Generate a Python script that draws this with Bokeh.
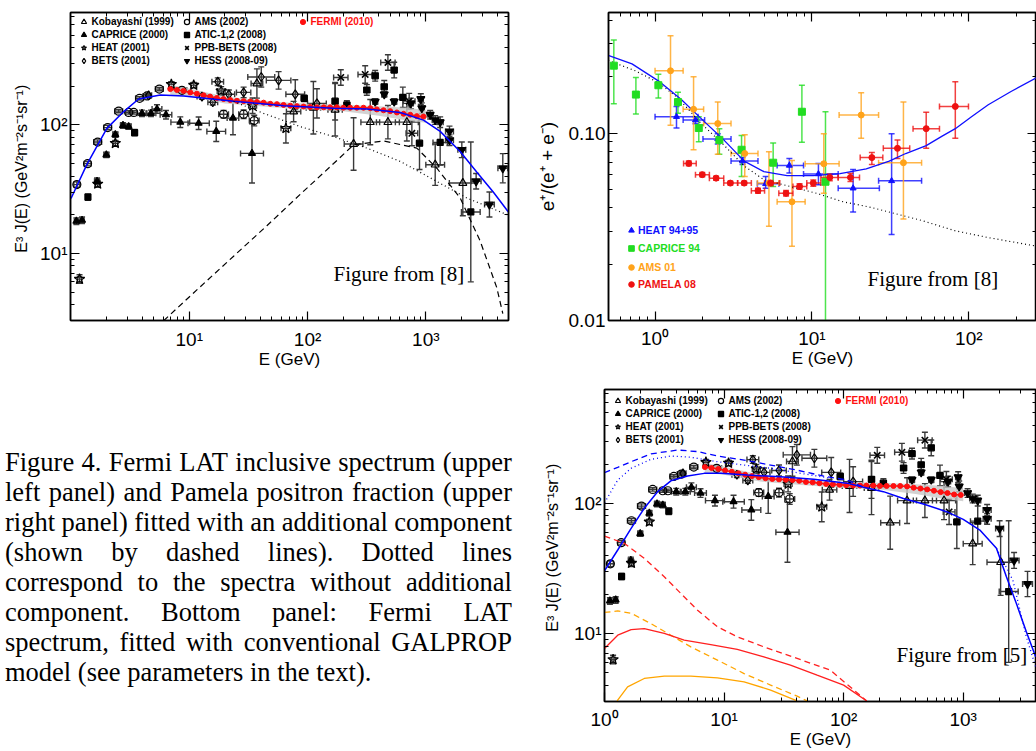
import numpy as np
from bokeh.plotting import figure
from bokeh.models import (ColumnDataSource, Whisker, TeeHead, LogAxis, FixedTicker,
                          CustomJSTickFormatter, Legend, LegendItem, Label, Range1d, Div)
from bokeh.layouts import row, column
from bokeh.embed import file_html
from bokeh.resources import INLINE

SANS = "Liberation Sans"
SERIF = "Liberation Serif"

# ---------------- electron + positron spectrum data (E^3 J(E)) ----------------
kob_E = [37.3, 76.2, 112, 171, 245, 339, 478, 691, 1200, 2055]
kob_F = [210, 127, 136, 131, 71, 105, 105, 105, 49, 35.3]
kob_xf = [1.12, 1.15, 1.15, 1.15, 1.2, 1.2, 1.25, 1.25, 1.2, 1.3]
kob_yf = [1.3, 1.2, 1.6, 1.6, 1.6, 1.5, 1.35, 1.4, 1.45, 1.8]

cap_E = [1.11, 1.24, 1.66, 1.99, 2.37, 2.75, 3.07, 3.98, 4.74, 5.33, 6.35, 8.39, 12.0, 16.9, 23.4, 33.9]
cap_F = [17.8, 18.1, 36.4, 58.5, 84, 99, 97, 123, 123, 133, 120, 105, 103, 89, 113, 60]
cap_xf = [1.04, 1.04, 1.05, 1.05, 1.05, 1.05, 1.05, 1.1, 1.1, 1.1, 1.12, 1.2, 1.23, 1.2, 1.12, 1.25]
cap_yf = [1.06, 1.06, 1.06, 1.05, 1.05, 1.05, 1.05, 1.06, 1.06, 1.08, 1.08, 1.1, 1.12, 1.2, 1.35, 1.7]

heat_E = [1.18, 1.68, 2.37, 7.05, 10.9, 18.6, 34.3, 65.6]
heat_F = [6.3, 34.7, 72, 207, 204, 184, 141, 94]
heat_xf = [1.04, 1.05, 1.05, 1.05, 1.06, 1.08, 1.08, 1.1]
heat_yf = [1.08, 1.06, 1.05, 1.05, 1.05, 1.08, 1.15, 1.3]

bets_E = [4.53, 12.8, 15.8, 17.4, 21.6, 28.8, 40.6, 56.9, 78.7, 120]
bets_F = [170, 166, 150, 217, 173, 179, 236, 222, 173, 147]
bets_xf = [1.06, 1.1, 1.1, 1.12, 1.12, 1.15, 1.3, 1.27, 1.2, 1.2]
bets_yf = [1.03, 1.05, 1.05, 1.07, 1.08, 1.1, 1.2, 1.17, 1.3, 1.3]

ams_E = [1.12, 1.38, 1.68, 2.04, 2.53, 3.07, 3.39, 3.80, 4.39, 5.58, 8.67, 19.5, 28.8, 35.4]
ams_F = [34.3, 49.9, 73.5, 95.3, 128, 125, 125, 161, 168, 190, 186, 121, 121, 108]
ams_xf = [1.06, 1.07, 1.08, 1.08, 1.08, 1.06, 1.06, 1.08, 1.08, 1.08, 1.1, 1.1, 1.1, 1.1]
ams_yf = [1.05, 1.04, 1.04, 1.04, 1.03, 1.03, 1.03, 1.03, 1.03, 1.03, 1.04, 1.07, 1.08, 1.1]

atic_E = [1.39, 3.45, 93.7, 171, 215, 317, 373, 445, 540, 639, 884, 1322, 2400]
atic_F = [27.4, 87, 161, 153, 143, 187, 241, 198, 267, 164, 72, 73, 21]
atic_xf = [1.04, 1.04, 1.06, 1.06, 1.06, 1.06, 1.06, 1.06, 1.06, 1.06, 1.06, 1.15, 1.2]
atic_yf = [1.06, 1.06, 1.06, 1.4, 1.08, 1.1, 1.1, 1.12, 1.15, 1.2, 1.6, 1.5, 3.5]

ppb_E = [191, 307, 478, 723, 762]
ppb_F = [234, 247, 306, 153, 86]
ppb_xf = [1.15, 1.15, 1.15, 1.12, 1.12]
ppb_yf = [1.15, 1.17, 1.15, 1.15, 1.25]

hess_E = [373, 445, 540, 747, 907, 925, 1088, 1200, 1322, 1585, 1585, 2015, 2663, 3450, 4475]
hess_F = [152, 173, 152, 147, 159, 135, 120, 109, 105, 89, 76, 64, 36.4, 24, 46]
hess_xf = [1.05, 1.05, 1.05, 1.05, 1.05, 1.05, 1.06, 1.06, 1.06, 1.08, 1.08, 1.08, 1.1, 1.1, 1.1]
hess_yf = [1.05, 1.05, 1.05, 1.1, 1.1, 1.1, 1.08, 1.08, 1.1, 1.1, 1.1, 1.15, 1.15, 1.25, 1.3]

fermi_E = [6.91, 7.86, 8.95, 10.2, 11.6, 13.2, 15.0, 17.1, 19.5, 22.2, 25.3, 28.8, 32.8,
           37.3, 42.5, 48.4, 55.1, 62.7, 71.4, 81.3, 92.5, 105, 120, 137, 155, 177, 201,
           229, 261, 297, 339, 385, 439, 500, 569, 648, 738, 839, 955]
fermi_F = [190, 187, 184, 179, 175, 170, 166, 162, 159, 156, 154, 153, 152,
           151, 149, 146, 145, 143, 141, 140, 139, 138, 137, 137, 137, 137, 136,
           136, 136, 136, 135, 132, 130, 128, 125, 122, 120, 117, 116]
band_E = [6.9, 10, 20, 50, 100, 200, 400, 700, 1000]
band_hi = [205, 192, 166, 152, 146, 144, 140, 136, 130]
band_lo = [172, 166, 147, 137, 131, 128, 118, 108, 104]

# upper-left panel model curves
fit1_E = [1.0, 1.36, 2.01, 2.79, 3.73, 5.69, 8.95, 23.7, 62.7, 166, 317, 607, 955, 1322, 1950, 2692, 3715, 4990]
fit1_F = [26.7, 49, 94, 127, 159, 171, 168, 153, 141, 135, 133, 125, 109, 89, 62, 43, 30, 21]
nocomp1_E = [23.7, 42.5, 86.7, 166, 317, 607, 1161, 2218, 4990]
nocomp1_F = [152, 123, 97, 81, 66, 52, 37.5, 27, 19.8]
extra1_E = [6.07, 12.4, 23.7, 45.3, 86.7, 166, 245, 439, 839, 1239, 1950, 2877, 3982, 4475]
extra1_F = [2.99, 5.5, 9.5, 16.4, 28.8, 50, 70, 75, 66, 46, 27, 12.5, 5.4, 3.4]

# bottom panel GALPROP curves
gal_tot_E = [1.0, 1.29, 1.67, 2.15, 2.78, 3.59, 4.95, 6.81, 9.38, 15.6, 29.7, 56.2, 107, 147, 215, 316, 464, 726, 1000, 1377, 1896, 2297, 2783, 3370, 4033]
gal_tot_F = [30.3, 43.8, 64.2, 91.6, 123, 149, 162, 170, 170, 165, 160, 153, 143, 133, 123, 109, 99, 86.3, 75.3, 62.3, 45.1, 27.3, 17.0, 10.3, 6.62]
gal_dash_E = [1.0, 1.29, 1.67, 2.45, 4.08, 6.0, 8.8, 14.7, 24.5, 40.8, 68, 107, 147]
gal_dash_F = [172, 189, 209, 240, 257, 250, 231, 215, 197, 180, 162, 151, 133]
gal_dot_E = [1.0, 1.29, 1.67, 2.45, 3.59, 5.27, 8.8, 14.7, 24.5, 40.8, 77.4]
gal_dot_F = [101, 151, 186, 218, 231, 226, 209, 197, 186, 172, 156]
gal_dot2_E = [1896, 2600, 3370, 4033]
gal_dot2_F = [45.1, 25.7, 9.43, 5.54]
pos_dash_E = [1.0, 1.47, 2.15, 3.16, 4.35, 6.0, 8.8, 12.9, 21.5, 40.8, 77.4, 156]
pos_dash_F = [56.1, 49.2, 37.8, 27.3, 20.3, 15.1, 11.25, 9.43, 7.89, 6.43, 5.22, 3.03]
pos_sol_E = [1.0, 1.29, 1.67, 2.15, 3.16, 4.64, 7.74, 12.9, 21.5, 35.9, 60, 100, 156]
pos_sol_F = [7.67, 9.7, 10.7, 10.9, 10.0, 8.89, 8.22, 7.54, 6.62, 5.71, 4.78, 4.01, 3.03]
or_dash_E = [1.0, 1.29, 1.67, 2.45, 3.59, 5.27, 8.8, 14.7, 24.5, 40.8, 49.5]
or_dash_F = [14.5, 14.9, 14.3, 11.9, 9.7, 7.89, 6.24, 4.92, 4.01, 3.3, 3.03]
or_sol_E = [1.275, 1.56, 2.15, 3.16, 5.27, 8.8, 14.7, 24.5, 40.8]
or_sol_F = [3.03, 3.89, 4.51, 4.7, 4.7, 4.56, 4.25, 3.67, 3.03]

# ---------------- positron fraction data ----------------
heat2_E = [1.37, 1.81, 2.51, 3.61, 5.07, 7.18, 11.0, 18.3, 32.2]
heat2_Elo = [1.0, 1.51, 2.02, 3.05, 4.49, 6.0, 8.84, 14.7, 26.6]
heat2_Ehi = [1.88, 2.07, 3.05, 4.53, 6.15, 8.84, 14.7, 26.9, 50]
heat2_y = [0.1223, 0.1173, 0.0931, 0.0709, 0.0536, 0.0672, 0.0605, 0.0508, 0.0556]
heat2_ylo = [0.1064, 0.112, 0.0875, 0.068, 0.0508, 0.0613, 0.053, 0.0379, 0.0288]
heat2_yhi = [0.1387, 0.1223, 0.0992, 0.074, 0.0587, 0.0731, 0.0689, 0.0639, 0.0992]

cap2_E = [0.546, 0.755, 1.05, 1.40, 1.90, 2.57, 3.56, 5.66, 8.63, 12.2]
cap2_y = [0.229, 0.1605, 0.180, 0.1464, 0.1064, 0.092, 0.0815, 0.0695, 0.130, 0.055]
cap2_ylo = [0.1433, 0.1264, 0.154, 0.1275, 0.090, 0.0771, 0.0587, 0.0519, 0.0893, 0.001]
cap2_yhi = [0.314, 0.198, 0.206, 0.1652, 0.1223, 0.1056, 0.0971, 0.0886, 0.180, 0.130]

ams2_E = [1.255, 1.76, 2.51, 3.73, 5.32, 7.46, 11.9, 20.6, 38.3]
ams2_Elo = [1.0, 1.51, 2.04, 3.05, 4.49, 6.0, 9.05, 14.9, 26.6]
ams2_Ehi = [1.51, 2.04, 3.05, 4.53, 6.15, 9.05, 14.9, 26.6, 50]
ams2_y = [0.215, 0.134, 0.1124, 0.0778, 0.0541, 0.043, 0.0686, 0.1248, 0.0695]
ams2_ylo = [0.1101, 0.0815, 0.0771, 0.0587, 0.0318, 0.0249, 0.0477, 0.0939, 0.0348]
ams2_yhi = [0.331, 0.20, 0.1464, 0.0979, 0.0794, 0.0715, 0.0992, 0.164, 0.1464]

pam2_E = [1.64, 2.0, 2.45, 3.02, 3.70, 4.53, 5.45, 6.84, 8.34, 10.2, 13.0, 17.6, 24.1, 35.1, 53.5, 82]
pam2_Elo = [1.52, 1.81, 2.22, 2.74, 3.36, 4.11, 4.99, 6.15, 7.57, 9.27, 11.4, 14.7, 20.3, 28.5, 44.1, 65]
pam2_Ehi = [1.83, 2.22, 2.74, 3.36, 4.11, 4.99, 6.24, 7.57, 9.27, 11.4, 14.7, 20.1, 28.3, 42.0, 65.0, 99.5]
pam2_y = [0.0689, 0.060, 0.0575, 0.0541, 0.0541, 0.0493, 0.0541, 0.0477, 0.0519, 0.0541, 0.058, 0.058, 0.074, 0.0829, 0.1056, 0.1387]
pam2_ylo = [0.067, 0.0585, 0.0561, 0.0528, 0.0528, 0.0478, 0.0524, 0.0461, 0.0502, 0.0521, 0.0556, 0.0552, 0.068, 0.0731, 0.0829, 0.0939]
pam2_yhi = [0.071, 0.0616, 0.0589, 0.0554, 0.0554, 0.0508, 0.0558, 0.0494, 0.0537, 0.0562, 0.0605, 0.061, 0.0788, 0.092, 0.129, 0.188]

pf_fit_E = [0.503, 0.713, 1.05, 1.47, 2.07, 2.77, 3.70, 4.94, 6.94, 10.2, 15.1, 22.2, 31.1, 39.6, 53.5, 67.6, 82, 104, 133, 187, 272]
pf_fit_y = [0.26, 0.234, 0.190, 0.151, 0.1148, 0.0912, 0.0709, 0.0623, 0.0593, 0.0593, 0.0608, 0.0644, 0.0709, 0.0778, 0.0857, 0.0963, 0.1056, 0.1223, 0.1416, 0.1673, 0.198]
pf_nocomp_E = [0.503, 0.748, 1.05, 1.40, 1.97, 2.77, 3.70, 4.94, 7.28, 10.7, 15.8, 23.3, 34.3, 50.5, 82, 133, 272]
pf_nocomp_y = [0.244, 0.215, 0.186, 0.154, 0.1124, 0.0857, 0.0667, 0.0564, 0.0519, 0.0477, 0.043, 0.0403, 0.0371, 0.0341, 0.0301, 0.0277, 0.0249]

# texts
ylabel_spec = "E\u00b3 J(E)  (GeV\u00b2m\u207b\u00b2s\u207b\u00b9sr\u207b\u00b9)"
ylabel_pf = "e\u207a/(e\u207a + e\u207b)"
xlabel_E = "E (GeV)"

caption_lines = [
    "Figure 4. Fermi LAT inclusive spectrum (upper",
    "left panel) and Pamela positron fraction (upper",
    "right panel) fitted with an additional component",
    "(shown by dashed lines). Dotted lines",
    "correspond to the spectra without additional",
    "component. Bottom panel: Fermi LAT",
    "spectrum, fitted with conventional GALPROP",
    "model (see parameters in the text).",
]

# ---------------- helpers ----------------
POW_JS = """
const e = Math.round(Math.log10(tick));
const s = {"-2":"\u207b\u00b2","-1":"\u207b\u00b9","0":"\u2070","1":"\u00b9","2":"\u00b2","3":"\u00b3"};
return "10" + s[String(e)];
"""
FIX_JS = "return tick.toFixed(2);"
EMPTY_JS = "return '';"


def decades(lo, hi):
    majors = [10.0 ** k for k in range(lo, hi + 1)]
    minors = [m * 10.0 ** k for k in range(lo - 1, hi + 1) for m in range(2, 10)]
    return majors, minors


def make_fig(width, height, borders, xr, yr, xt, yt, yfmt_js, ylabel, ylab_size,
             xstand=7, xlstand=-3, ystand=3, ylstand=7):
    l, r, t, b = borders
    p = figure(width=width, height=height, x_axis_type="log", y_axis_type="log",
               x_range=Range1d(*xr), y_range=Range1d(*yr), output_backend="svg",
               toolbar_location=None, min_border_left=l, min_border_right=r,
               min_border_top=t, min_border_bottom=b)
    p.xgrid.visible = False
    p.ygrid.visible = False
    p.outline_line_color = "black"
    p.outline_line_width = 1.5
    p.add_layout(LogAxis(), "above")
    p.add_layout(LogAxis(), "right")
    for ax in p.xaxis:
        ax.ticker = FixedTicker(ticks=xt[0], minor_ticks=xt[1])
    for ax in p.yaxis:
        ax.ticker = FixedTicker(ticks=yt[0], minor_ticks=yt[1])
    for ax in p.axis:
        ax.axis_line_color = "black"
        ax.axis_line_width = 1.5
        ax.major_tick_line_color = "black"
        ax.minor_tick_line_color = "black"
        ax.major_tick_line_width = 1.2
        ax.minor_tick_line_width = 1.0
        ax.major_tick_in = 9
        ax.major_tick_out = 0
        ax.minor_tick_in = 4
        ax.minor_tick_out = 0
        ax.major_label_text_font = SANS
        ax.major_label_text_font_size = "19px"
        ax.major_label_text_color = "black"
        ax.axis_label_text_font = SANS
        ax.axis_label_text_font_style = "normal"
        ax.axis_label_text_color = "black"
    for ax in p.above + p.right:
        ax.formatter = CustomJSTickFormatter(code=EMPTY_JS)
        ax.major_label_text_font_size = "0px"
        ax.major_label_standoff = 0
    bx = p.below[0]
    bx.formatter = CustomJSTickFormatter(code=POW_JS)
    bx.major_label_standoff = xstand
    bx.axis_label = xlabel_E
    bx.axis_label_text_font_size = "17px"
    bx.axis_label_standoff = xlstand
    ly = p.left[0]
    ly.formatter = CustomJSTickFormatter(code=yfmt_js)
    ly.axis_label = ylabel
    ly.axis_label_text_font_size = ylab_size
    ly.major_label_standoff = ystand
    ly.axis_label_standoff = ylstand
    return p


def add_points(p, E, F, xf, yf, marker, fill, size, lw=1.2, ecolor="#3a3a3a"):
    E = np.asarray(E, float); F = np.asarray(F, float)
    xf = np.asarray(xf, float); yf = np.asarray(yf, float)
    src = ColumnDataSource(dict(E=E, F=F, Elo=E / xf, Ehi=E * xf, Flo=F / yf, Fhi=F * yf))
    p.add_layout(Whisker(source=src, base="E", lower="Flo", upper="Fhi", dimension="height",
                         line_color=ecolor, line_width=1.4,
                         upper_head=TeeHead(size=6, line_color=ecolor, line_width=1.4),
                         lower_head=TeeHead(size=6, line_color=ecolor, line_width=1.4)))
    p.add_layout(Whisker(source=src, base="F", lower="Elo", upper="Ehi", dimension="width",
                         line_color=ecolor, line_width=1.4,
                         upper_head=TeeHead(size=6, line_color=ecolor, line_width=1.4),
                         lower_head=TeeHead(size=6, line_color=ecolor, line_width=1.4)))
    return p.scatter("E", "F", source=src, marker=marker, size=size, line_color="black",
                     line_width=lw, fill_color=fill)


def spectrum_panel(p, fig_label, fig_label_pos):
    p.varea(x=band_E, y1=band_lo, y2=band_hi, fill_color="#c8c8c8", fill_alpha=0.8)
    rs = {}
    rs["kob"] = add_points(p, kob_E, kob_F, kob_xf, kob_yf, "triangle", None, 8)
    rs["cap"] = add_points(p, cap_E, cap_F, cap_xf, cap_yf, "triangle", "black", 7)
    rs["heat"] = add_points(p, heat_E, heat_F, heat_xf, heat_yf, "star", None, 11)
    rs["bets"] = add_points(p, bets_E, bets_F, bets_xf, bets_yf, "diamond", None, 9)
    rs["ams"] = add_points(p, ams_E, ams_F, ams_xf, ams_yf, "circle", None, 8)
    rs["atic"] = add_points(p, atic_E, atic_F, atic_xf, atic_yf, "square", "black", 6)
    rs["ppb"] = add_points(p, ppb_E, ppb_F, ppb_xf, ppb_yf, "x", None, 9, lw=1.6)
    rs["hess"] = add_points(p, hess_E, hess_F, hess_xf, hess_yf, "inverted_triangle", "black", 8)
    p.line(fermi_E, fermi_F, line_color="#ff1010", line_width=1.6)
    rs["fermi"] = p.scatter(fermi_E, fermi_F, marker="circle", size=5, fill_color="#ff1010",
                            line_color="#ff1010")
    lab = Label(x=fig_label_pos[0], y=fig_label_pos[1], x_units="screen", y_units="screen",
                text=fig_label, text_font=SERIF, text_font_size="21px", text_color="black")
    p.add_layout(lab)
    return rs


def spectrum_legends(p, rs, black_loc, fermi_loc):
    names = [("kob", "Kobayashi (1999)"), ("cap", "CAPRICE (2000)"), ("heat", "HEAT (2001)"),
             ("bets", "BETS (2001)"), ("ams", "AMS (2002)"), ("atic", "ATIC-1,2 (2008)"),
             ("ppb", "PPB-BETS (2008)"), ("hess", "HESS (2008-09)")]
    common = dict(orientation="vertical", glyph_width=13, glyph_height=13, label_height=13,
                  label_standoff=2, spacing=0, padding=0, margin=0, border_line_color=None,
                  background_fill_alpha=0, label_text_font=SANS, label_text_font_style="bold",
                  label_text_font_size="10px", label_text_baseline="middle")
    leg = Legend(items=[LegendItem(label=t, renderers=[rs[k]]) for k, t in names],
                 location=black_loc, nrows=4, label_width=88, label_text_color="black", **common)
    p.add_layout(leg)
    leg2 = Legend(items=[LegendItem(label="FERMI (2010)", renderers=[rs["fermi"]])],
                  location=fermi_loc, label_width=60, label_text_color="#ff1010", **common)
    p.add_layout(leg2)


# ---------------- upper-left panel ----------------
p1 = make_fig(533, 380, (70, 25, 10, 60), (0.99, 5000), (3.0, 750), decades(1, 3), decades(1, 2),
              POW_JS, ylabel_spec, "16px", xstand=8, xlstand=-3, ylstand=7)
rs1 = spectrum_panel(p1, "Figure from [8]", (263, 35))
p1.line(fit1_E, fit1_F, line_color="#0000ff", line_width=1.5)
p1.line(nocomp1_E, nocomp1_F, line_color="black", line_width=1.2, line_dash="1 3")
p1.line(extra1_E, extra1_F, line_color="black", line_width=1.2, line_dash="6 4")
spectrum_legends(p1, rs1, (6.5, 253.5), (225.5, 292.5))

# ---------------- upper-right panel ----------------
p2 = make_fig(503, 380, (70, 0, 12, 57), (0.505, 270), (0.01, 0.44), decades(0, 2),
              ([0.01, 0.1], [0.02, 0.03, 0.04, 0.05, 0.06, 0.07, 0.08, 0.09, 0.2, 0.3, 0.4]),
              FIX_JS, ylabel_pf, "19px", xstand=7, xlstand=-3, ylstand=8)
p2.line(pf_nocomp_E, pf_nocomp_y, line_color="black", line_width=1.2, line_dash="1 3")
p2.line(pf_fit_E, pf_fit_y, line_color="#1010ff", line_width=1.3)


def add_pf(p, E, y, ylo, yhi, Elo, Ehi, marker, color, size):
    d = dict(E=E, y=y, ylo=ylo, yhi=yhi)
    if Elo is not None:
        d["Elo"] = Elo
        d["Ehi"] = Ehi
    src = ColumnDataSource(d)
    kw = dict(line_color=color, line_width=1.5, line_alpha=0.8)
    p.add_layout(Whisker(source=src, base="E", lower="ylo", upper="yhi", dimension="height",
                         upper_head=TeeHead(size=6, **kw), lower_head=TeeHead(size=6, **kw), **kw))
    if Elo is not None:
        p.add_layout(Whisker(source=src, base="y", lower="Elo", upper="Ehi", dimension="width",
                             upper_head=TeeHead(size=6, **kw), lower_head=TeeHead(size=6, **kw), **kw))
    return p.scatter("E", "y", source=src, marker=marker, size=size, fill_color=color,
                     line_color=color)


r_h = add_pf(p2, heat2_E, heat2_y, heat2_ylo, heat2_yhi, heat2_Elo, heat2_Ehi, "triangle", "#1010ff", 6)
r_c = add_pf(p2, cap2_E, cap2_y, cap2_ylo, cap2_yhi, None, None, "square", "#22dd22", 7)
r_a = add_pf(p2, ams2_E, ams2_y, ams2_ylo, ams2_yhi, ams2_Elo, ams2_Ehi, "circle", "#ffa31a", 6)
r_p = add_pf(p2, pam2_E, pam2_y, pam2_ylo, pam2_yhi, pam2_Elo, pam2_Ehi, "circle", "#ee1111", 6)

for (r, t, c, yb) in [(r_h, "HEAT 94+95", "#1010ff", 83), (r_c, "CAPRICE 94", "#22dd22", 64.7),
                      (r_a, "AMS 01", "#ffa31a", 46.3), (r_p, "PAMELA 08", "#ee1111", 28.7)]:
    lg = Legend(items=[LegendItem(label=t, renderers=[r])], location=(16, yb), glyph_width=14,
                glyph_height=14, label_height=11, label_standoff=0, padding=0, margin=0,
                border_line_color=None, background_fill_alpha=0, label_text_font=SANS,
                label_text_font_style="bold", label_text_font_size="10.5px",
                label_text_color=c, label_text_baseline="middle")
    p2.add_layout(lg)
p2.add_layout(Label(x=259, y=30, x_units="screen", y_units="screen", text="Figure from [8]",
                    text_font=SERIF, text_font_size="21px", text_color="black"))

# ---------------- bottom-right panel ----------------
p3 = make_fig(503, 371, (71, 0, 9, 50), (1.0, 4100), (3.0, 750), decades(0, 3), decades(1, 2),
              POW_JS, ylabel_spec, "16px", xstand=7, xlstand=-3, ylstand=10)
rs3 = spectrum_panel(p3, "Figure from [5]", (292, 35))
p3.line(or_sol_E, or_sol_F, line_color="#ffa500", line_width=1.3)
p3.line(or_dash_E, or_dash_F, line_color="#ffa500", line_width=1.3, line_dash="6 4")
p3.line(pos_sol_E, pos_sol_F, line_color="#ff2020", line_width=1.3)
p3.line(pos_dash_E, pos_dash_F, line_color="#ff2020", line_width=1.3, line_dash="6 4")
p3.line(gal_dot_E, gal_dot_F, line_color="#0000ff", line_width=1.3, line_dash="1 3")
p3.line(gal_dot2_E, gal_dot2_F, line_color="#0000ff", line_width=1.3, line_dash="1 3")
p3.line(gal_dash_E, gal_dash_F, line_color="#0000ff", line_width=1.3, line_dash="6 4")
p3.line(gal_tot_E, gal_tot_F, line_color="#0000ff", line_width=1.5)
spectrum_legends(p3, rs3, (6.5, 255.5), (226.5, 294.5))

# ---------------- caption ----------------
parts = []
for i, line in enumerate(caption_lines):
    if i < len(caption_lines) - 1:
        spans = "".join("<span>%s</span>" % w for w in line.split(" "))
        parts.append('<div style="display:flex;justify-content:space-between;height:30px;'
                     'line-height:30px;white-space:nowrap;">%s</div>' % spans)
    else:
        parts.append('<div style="height:30px;line-height:30px;white-space:nowrap;">%s</div>' % line)
html = ('<div style="font-family:\'%s\',serif;font-size:26.5px;color:#000;width:512px;'
        'padding-top:67px;padding-left:5px;margin:0;">%s</div>' % (SERIF, "".join(parts)))
caption = Div(text=html, width=533, height=371, margin=0)

layout = column(row(p1, p2), row(caption, p3))
open("out.html", "w").write(file_html(layout, INLINE))
